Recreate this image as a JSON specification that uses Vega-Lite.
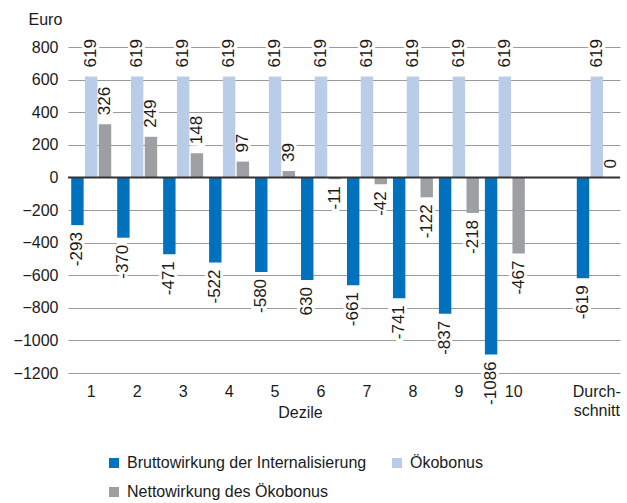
{
  "$schema": "https://vega.github.io/schema/vega-lite/v6.json",
  "width": 552,
  "height": 326,
  "autosize": "none",
  "padding": {"left": 68, "top": 47, "right": 7, "bottom": 130},
  "background": "white",
  "config": {
    "font": "Liberation Sans",
    "view": {"stroke": null},
    "axisY": {
      "values": [-1200,-1000,-800,-600,-400,-200,0,200,400,600,800],
      "format": "d", "labelOverlap": false,
      "title": "Euro", "titleAngle": 0, "titleAlign": "left", "titleBaseline": "alphabetic",
      "titleX": -40, "titleY": -23, "titleFontSize": 16, "titleFontWeight": "normal", "titleColor": "#1a1a1a",
      "labelFontSize": 16, "labelColor": "#1a1a1a", "labelPadding": 10,
      "domain": false, "ticks": false, "grid": true, "gridColor": "#9a9a9a", "gridWidth": 1
    },
    "axisX": {
      "titleFontSize": 16, "titleFontWeight": "normal", "titleColor": "#1a1a1a",
      "titleX": 232, "titleY": 31, "titleBaseline": "top",
      "labelAngle": 0, "labelFontSize": 16, "labelColor": "#1a1a1a", "labelPadding": 10,
      "labelLineHeight": 19, "labelBaseline": "top", "labelOverlap": false,
      "domain": false, "ticks": false, "grid": false
    }
  },
  "datasets": {
    "werte": [
      {"Dezil": "1", "Reihe": "Bruttowirkung der Internalisierung", "Wert": -293, "Label": "-293"},
      {"Dezil": "2", "Reihe": "Bruttowirkung der Internalisierung", "Wert": -370, "Label": "-370"},
      {"Dezil": "3", "Reihe": "Bruttowirkung der Internalisierung", "Wert": -471, "Label": "-471"},
      {"Dezil": "4", "Reihe": "Bruttowirkung der Internalisierung", "Wert": -522, "Label": "-522"},
      {"Dezil": "5", "Reihe": "Bruttowirkung der Internalisierung", "Wert": -580, "Label": "-580"},
      {"Dezil": "6", "Reihe": "Bruttowirkung der Internalisierung", "Wert": -630, "Label": "630"},
      {"Dezil": "7", "Reihe": "Bruttowirkung der Internalisierung", "Wert": -661, "Label": "-661"},
      {"Dezil": "8", "Reihe": "Bruttowirkung der Internalisierung", "Wert": -741, "Label": "-741"},
      {"Dezil": "9", "Reihe": "Bruttowirkung der Internalisierung", "Wert": -837, "Label": "-837"},
      {"Dezil": "10", "Reihe": "Bruttowirkung der Internalisierung", "Wert": -1086, "Label": "-1086"},
      {"Dezil": "Durchschnitt", "Reihe": "Bruttowirkung der Internalisierung", "Wert": -619, "Label": "-619"},
      {"Dezil": "1", "Reihe": "Ökobonus", "Wert": 619, "Label": "619"},
      {"Dezil": "2", "Reihe": "Ökobonus", "Wert": 619, "Label": "619"},
      {"Dezil": "3", "Reihe": "Ökobonus", "Wert": 619, "Label": "619"},
      {"Dezil": "4", "Reihe": "Ökobonus", "Wert": 619, "Label": "619"},
      {"Dezil": "5", "Reihe": "Ökobonus", "Wert": 619, "Label": "619"},
      {"Dezil": "6", "Reihe": "Ökobonus", "Wert": 619, "Label": "619"},
      {"Dezil": "7", "Reihe": "Ökobonus", "Wert": 619, "Label": "619"},
      {"Dezil": "8", "Reihe": "Ökobonus", "Wert": 619, "Label": "619"},
      {"Dezil": "9", "Reihe": "Ökobonus", "Wert": 619, "Label": "619"},
      {"Dezil": "10", "Reihe": "Ökobonus", "Wert": 619, "Label": "619"},
      {"Dezil": "Durchschnitt", "Reihe": "Ökobonus", "Wert": 619, "Label": "619"},
      {"Dezil": "1", "Reihe": "Nettowirkung des Ökobonus", "Wert": 326, "Label": "326"},
      {"Dezil": "2", "Reihe": "Nettowirkung des Ökobonus", "Wert": 249, "Label": "249"},
      {"Dezil": "3", "Reihe": "Nettowirkung des Ökobonus", "Wert": 148, "Label": "148"},
      {"Dezil": "4", "Reihe": "Nettowirkung des Ökobonus", "Wert": 97, "Label": "97"},
      {"Dezil": "5", "Reihe": "Nettowirkung des Ökobonus", "Wert": 39, "Label": "39"},
      {"Dezil": "6", "Reihe": "Nettowirkung des Ökobonus", "Wert": -11, "Label": "-11"},
      {"Dezil": "7", "Reihe": "Nettowirkung des Ökobonus", "Wert": -42, "Label": "-42"},
      {"Dezil": "8", "Reihe": "Nettowirkung des Ökobonus", "Wert": -122, "Label": "-122"},
      {"Dezil": "9", "Reihe": "Nettowirkung des Ökobonus", "Wert": -218, "Label": "-218"},
      {"Dezil": "10", "Reihe": "Nettowirkung des Ökobonus", "Wert": -467, "Label": "-467"},
      {"Dezil": "Durchschnitt", "Reihe": "Nettowirkung des Ökobonus", "Wert": 0, "Label": "0"}
    ],
    "nulllinie": [{"Nulllinie": 0}]
  },
  "layer": [
    {
      "data": {"name": "werte"},
      "encoding": {
        "x": {
          "field": "Dezil", "type": "nominal",
          "scale": {"domain": ["1","2","3","4","5","6","7","8","9","10"," ","Durchschnitt"], "paddingInner": 0.13, "paddingOuter": 0.07},
          "axis": {
            "title": "Dezile",
            "labelAlign": {"condition": {"test": "datum.value == '10'", "value": "left"}, "value": "center"},
            "labelExpr": "datum.value == 'Durchschnitt' ? ['Durch-', 'schnitt'] : datum.value"
          }
        },
        "xOffset": {
          "field": "Reihe", "type": "nominal",
          "scale": {"domain": ["Bruttowirkung der Internalisierung", "Ökobonus", "Nettowirkung des Ökobonus"], "paddingInner": 0.1}
        },
        "y": {
          "field": "Wert", "type": "quantitative",
          "scale": {"domain": [-1200, 800], "nice": false},
          "axis": {"values": [-1200,-1000,-800,-600,-400,-200,0,200,400,600,800], "title": "Euro"}
        },
        "text": {"field": "Label"}
      },
      "layer": [
        {
          "transform": [{"filter": "datum.Wert >= 0"}],
          "mark": {"type": "text", "angle": 270, "align": "left", "baseline": "middle", "dx": 9, "fontSize": 17, "fill": "white", "stroke": "white", "strokeWidth": 6}
        },
        {
          "transform": [{"filter": "datum.Wert < 0"}],
          "mark": {"type": "text", "angle": 270, "align": "right", "baseline": "middle", "dx": -7, "fontSize": 17, "fill": "white", "stroke": "white", "strokeWidth": 6}
        },
        {
          "mark": {"type": "bar"},
          "encoding": {
            "color": {
              "field": "Reihe", "type": "nominal",
              "scale": {"domain": ["Bruttowirkung der Internalisierung", "Ökobonus", "Nettowirkung des Ökobonus"], "range": ["#0071bc", "#b9cde9", "#9d9fa2"]},
              "legend": {
                "title": null, "orient": "none", "direction": "horizontal", "legendX": 38, "legendY": 408, "columns": 2,
                "symbolType": "square", "symbolSize": 100, "symbolStrokeWidth": 0, "labelLimit": 0,
                "labelFontSize": 16, "labelColor": "#1a1a1a", "columnPadding": 22, "rowPadding": 13, "labelOffset": 5
              }
            }
          }
        }
      ]
    },
    {
      "data": {"name": "nulllinie"},
      "mark": {"type": "rule", "color": "#333333", "strokeWidth": 2},
      "encoding": {
        "y": {
          "field": "Nulllinie", "type": "quantitative",
          "axis": {"values": [-1200,-1000,-800,-600,-400,-200,0,200,400,600,800], "title": "Euro"}
        }
      }
    },
    {
      "data": {"name": "werte"},
      "encoding": {
        "x": {"field": "Dezil", "type": "nominal"},
        "xOffset": {"field": "Reihe", "type": "nominal"},
        "y": {
          "field": "Wert", "type": "quantitative",
          "axis": {"values": [-1200,-1000,-800,-600,-400,-200,0,200,400,600,800], "title": "Euro"}
        },
        "text": {"field": "Label"}
      },
      "layer": [
        {
          "transform": [{"filter": "datum.Wert >= 0"}],
          "mark": {"type": "text", "angle": 270, "align": "left", "baseline": "middle", "dx": 9, "fontSize": 17, "color": "#1a1a1a"}
        },
        {
          "transform": [{"filter": "datum.Wert < 0"}],
          "mark": {"type": "text", "angle": 270, "align": "right", "baseline": "middle", "dx": -7, "fontSize": 17, "color": "#1a1a1a"}
        }
      ]
    }
  ]
}
